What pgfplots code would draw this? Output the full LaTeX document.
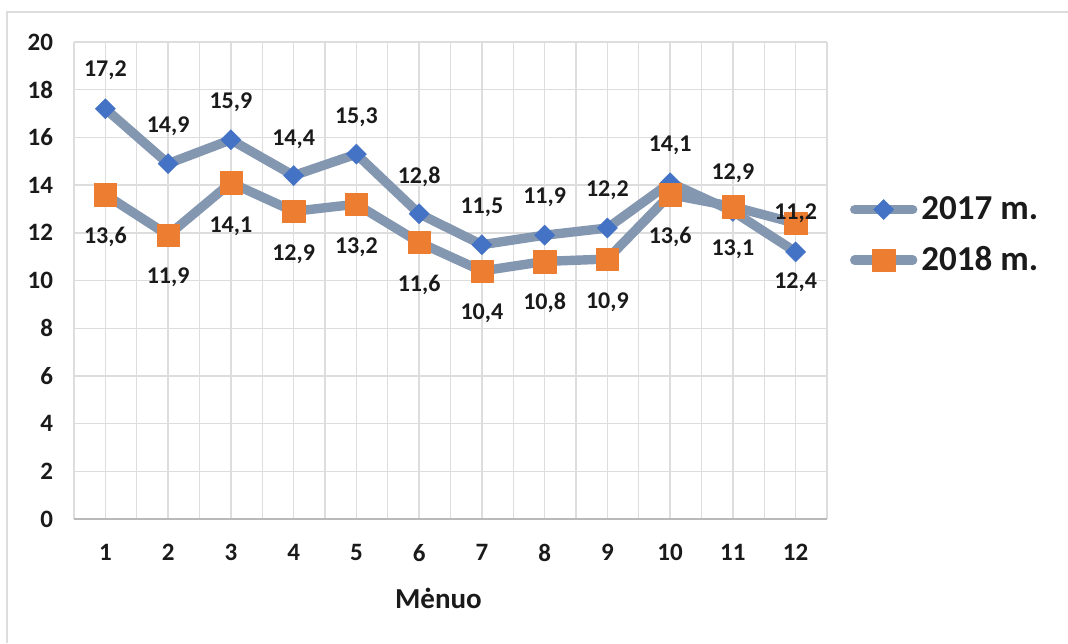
\documentclass[border=0pt]{standalone}
\usepackage{fontspec}
\setmainfont{Carlito}
\usepackage{pgfplots}
\pgfplotsset{compat=1.18}
\definecolor{lineg}{HTML}{8497B0}
\definecolor{cblue}{HTML}{4472C4}
\definecolor{corange}{HTML}{ED7D31}
\definecolor{gridc}{HTML}{DDDDDD}
\definecolor{txt}{HTML}{1A1A1A}
\begin{document}
\begin{tikzpicture}[x=0.5pt,y=0.5pt]
\useasboundingbox (0,0) rectangle (1068,643);
\draw[gridc, line width=0.8pt] (7,0) -- (7,631) -- (1068,631);
\begin{axis}[
  at={(37pt,62pt)}, anchor=south west,
  scale only axis, width=376.5pt, height=238.5pt,
  xmin=0.5, xmax=12.5, ymin=0, ymax=20,
  xtick={1,...,12}, ytick={0,2,...,20},
  minor xtick={0.5,1.5,...,12.5},
  xmajorgrids, xminorgrids, ymajorgrids,
  grid style={gridc, line width=0.7pt},
  minor grid style={gridc, line width=0.7pt},
  major tick length=0pt, minor tick length=0pt,
  axis line style={draw=none},
  /pgf/number format/assume math mode=true,
  tick label style={font=\fontsize{12.5}{14}\selectfont\bfseries, text=txt},
  yticklabel style={xshift=-7pt},
  xticklabel style={yshift=-9pt},
  xlabel={Mėnuo},
  xlabel style={at={(axis description cs:0.484,0)}, anchor=north, yshift=-31pt, font=\fontsize{14.5}{16}\selectfont\bfseries, text=txt},
  clip=false,
  legend style={at={(rel axis cs:1.03,0.595)}, anchor=west, draw=none, fill=none,
    font=\fontsize{17.5}{20}\selectfont\bfseries, text=txt, row sep=8pt, inner sep=0pt,
    nodes={inner xsep=2pt}},
  legend cell align=left,
  legend image code/.code={\draw[mark repeat=2,mark phase=2] plot coordinates {(0pt,0pt) (14.5pt,0pt) (29pt,0pt)};},
]
\draw[gray!55, line width=1pt] (rel axis cs:0,0) -- (rel axis cs:1,0);
\addplot[lineg, line width=4.7pt, line join=round, line cap=round,
  mark=square*, mark size=3.6pt, mark options={solid, rotate=45, draw=cblue, fill=cblue, line width=0.1pt}]
  coordinates {(1,17.2) (2,14.9) (3,15.9) (4,14.4) (5,15.3) (6,12.8) (7,11.5) (8,11.9) (9,12.2) (10,14.1) (11,12.9) (12,11.2)};
\addlegendentry{2017 m.}
\addplot[lineg, line width=4.7pt, line join=round, line cap=round,
  mark=square*, mark size=5.6pt, mark options={solid, draw=corange, fill=corange, line width=0.1pt}]
  coordinates {(1,13.6) (2,11.9) (3,14.1) (4,12.9) (5,13.2) (6,11.6) (7,10.4) (8,10.8) (9,10.9) (10,13.6) (11,13.1) (12,12.4)};
\addlegendentry{2018 m.}
\addplot[forget plot, draw=none, mark=none, nodes near coords, point meta=explicit symbolic,
  every node near coord/.style={anchor=center, font=\fontsize{12}{14}\selectfont\bfseries, text=txt}]
  table[meta=l] {
x y l
1 18.83 17,2
2 16.48 14,9
3 17.48 15,9
4 15.93 14,4
5 16.86 15,3
6 14.34 12,8
7 13.08 11,5
8 13.50 11,9
9 13.79 12,2
10 15.68 14,1
11 14.51 12,9
12 12.83 11,2
1 11.82 13,6
2 10.15 11,9
3 12.28 14,1
4 11.11 12,9
5 11.40 13,2
6 9.81 11,6
7 8.64 10,4
8 9.06 10,8
9 9.10 10,9
10 11.82 13,6
11 11.32 13,1
12 9.94 12,4
};
\end{axis}
\end{tikzpicture}
\end{document}
